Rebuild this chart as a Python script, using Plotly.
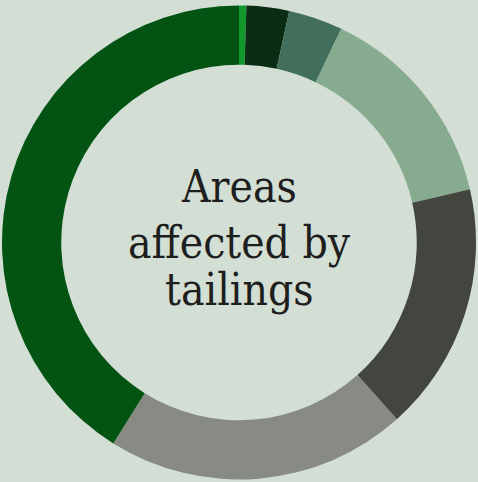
import plotly.graph_objects as go

labels = ["A", "B", "C", "D", "E", "F", "G"]
values = [0.5, 2.9, 3.7, 14.3, 17.0, 20.5, 41.1]
colors = ["#119a2b", "#0a2d14", "#426e5c", "#86ab8e", "#43463f", "#878b83", "#035313"]
center_lines = ["Areas", "affected by", "tailings"]
line_y = [0.617, 0.501, 0.402]

fig = go.Figure(go.Pie(
    labels=labels, values=values, hole=0.75, sort=False,
    direction="clockwise", rotation=0,
    marker=dict(colors=colors, line=dict(width=0)),
    textinfo="none", hoverinfo="label+percent", showlegend=False,
))
for t, yy in zip(center_lines, line_y):
    fig.add_annotation(
        text=t, x=0.5, y=yy, xref="paper", yref="paper", yanchor="middle",
        showarrow=False,
        font=dict(family="DejaVu Serif Condensed, DejaVu Serif", size=44, color="#1e1e1e"),
    )
fig.update_layout(
    width=478, height=482,
    margin=dict(l=2, r=2, t=5, b=2),
    paper_bgcolor="#d3ded4", plot_bgcolor="#d3ded4",
)
fig.write_html("out.html")
